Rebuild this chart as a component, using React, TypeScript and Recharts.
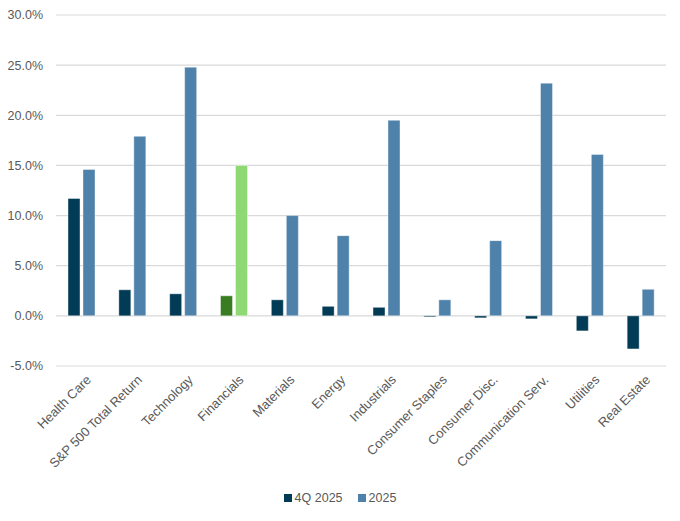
import React from "react";
import { BarChart, Bar, XAxis, YAxis, CartesianGrid, Legend, Cell } from "recharts";

const sectors = [
  "Health Care",
  "S&P 500 Total Return",
  "Technology",
  "Financials",
  "Materials",
  "Energy",
  "Industrials",
  "Consumer Staples",
  "Consumer Disc.",
  "Communication Serv.",
  "Utilities",
  "Real Estate",
];
const q4_2025 = [11.7, 2.6, 2.2, 2.0, 1.6, 0.95, 0.85, -0.1, -0.2, -0.3, -1.5, -3.3];
const fy_2025 = [14.6, 17.9, 24.8, 15.0, 10.0, 8.0, 19.5, 1.6, 7.5, 23.2, 16.1, 2.65];
const yTicks = [-5, 0, 5, 10, 15, 20, 25, 30];
const highlight = "Financials";
const seriesOrder = ["q4", "fy"];

const data = sectors.map((name, i) => ({ name, q4: q4_2025[i], fy: fy_2025[i] }));

const navy = "#023B55";
const steel = "#4F82AA";
const darkGreen = "#3A7C22";
const lightGreen = "#8ED973";
const textGray = "#595959";
const font = "'Liberation Sans', Arial, sans-serif";

const renderLegend = (props: any) => {
  const items = [...(props.payload || [])].sort(
    (a: any, b: any) => seriesOrder.indexOf(a.dataKey) - seriesOrder.indexOf(b.dataKey)
  );
  return (
    <div style={{ display: "flex", justifyContent: "center", fontFamily: font, fontSize: 12.5, color: textGray }}>
      {items.map((it: any, i: number) => (
        <div key={i} style={{ display: "flex", alignItems: "center", marginRight: i === 0 ? 15 : 0 }}>
          <span style={{ width: 8, height: 8, background: it.color, display: "inline-block", marginRight: 3 }} />
          <span>{it.value}</span>
        </div>
      ))}
    </div>
  );
};

export default function App() {
  return (
    <div style={{ position: "absolute", left: 0, top: 0, width: 680, height: 521, background: "#fff" }}>
      <BarChart
        width={680}
        height={521}
        data={data}
        margin={{ top: 15, right: 14, left: 0, bottom: 45 }}
        barSize={12}
        barGap={3}
      >
        <CartesianGrid vertical={false} stroke="#D9D9D9" strokeWidth={1.2} />
        <XAxis
          dataKey="name"
          interval={0}
          angle={-45}
          textAnchor="end"
          height={110}
          axisLine={false}
          tickLine={false}
          tickMargin={2}
          dx={4}
          tick={{ fill: textGray, fontSize: 13, fontFamily: font }}
        />
        <YAxis
          width={56}
          domain={[-5, 30]}
          ticks={yTicks}
          interval={0}
          axisLine={false}
          tickLine={false}
          tickMargin={7}
          tickFormatter={(v: number) => `${v.toFixed(1)}%`}
          tick={{ fill: textGray, fontSize: 12.5, fontFamily: font }}
        />
        <Legend
          layout="horizontal"
          verticalAlign="middle"
          align="center"
          content={renderLegend}
          wrapperStyle={{ position: "absolute", top: 491, left: 0, width: 680 }}
        />
        <Bar dataKey="q4" name="4Q 2025" fill={navy} stroke="rgba(255,255,255,0.5)" strokeWidth={0.8} isAnimationActive={false}>
          {data.map((d) => (
            <Cell key={d.name} fill={d.name === highlight ? darkGreen : navy} />
          ))}
        </Bar>
        <Bar dataKey="fy" name="2025" fill={steel} stroke="rgba(255,255,255,0.5)" strokeWidth={0.8} isAnimationActive={false}>
          {data.map((d) => (
            <Cell key={d.name} fill={d.name === highlight ? lightGreen : steel} />
          ))}
        </Bar>
      </BarChart>
    </div>
  );
}
